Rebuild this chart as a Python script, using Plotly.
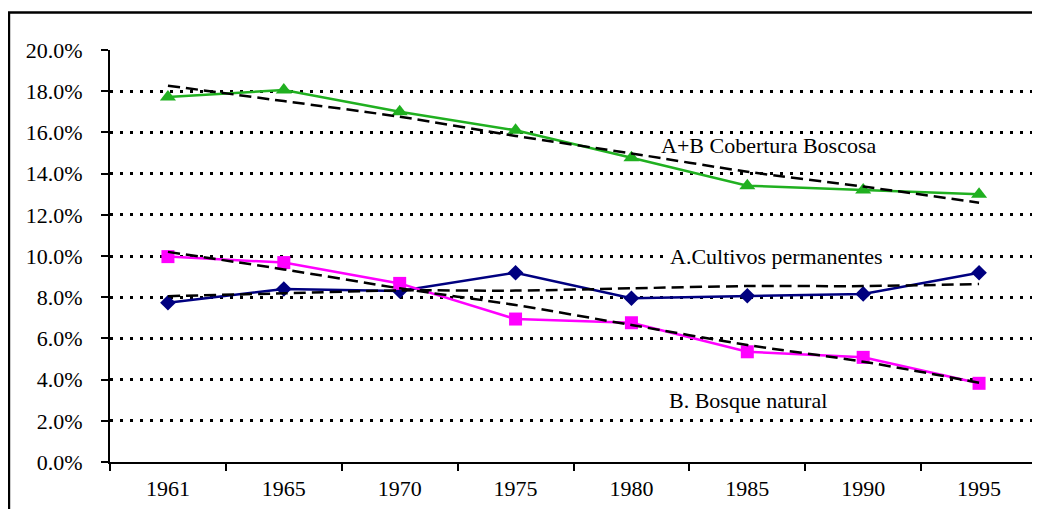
import plotly.graph_objects as go

years = ["1961", "1965", "1970", "1975", "1980", "1985", "1990", "1995"]

# Series values (%)
cobertura_boscosa = [17.72, 18.06, 17.0, 16.1, 14.77, 13.41, 13.2, 13.0]
cultivos_permanentes = [7.73, 8.40, 8.30, 9.19, 7.95, 8.07, 8.16, 9.19]
bosque_natural = [9.97, 9.68, 8.67, 6.94, 6.76, 5.35, 5.08, 3.82]

# Trend lines (%)
trend_cobertura = [18.27, 17.52, 16.76, 15.83, 14.98, 14.09, 13.37, 12.59]
trend_cultivos = [8.05, 8.19, 8.33, 8.32, 8.43, 8.54, 8.54, 8.64]
trend_bosque = [10.2, 9.35, 8.43, 7.62, 6.65, 5.68, 4.87, 3.85]

y_ticks = [0, 2, 4, 6, 8, 10, 12, 14, 16, 18, 20]
y_tick_labels = ["0.0%", "2.0%", "4.0%", "6.0%", "8.0%", "10.0%",
                 "12.0%", "14.0%", "16.0%", "18.0%", "20.0%"]

label_ab = "A+B Cobertura Boscosa"
label_a = "A.Cultivos permanentes"
label_b = "B. Bosque natural"

FONT = "Liberation Serif"

fig = go.Figure()

fig.add_trace(go.Scatter(
    x=years, y=cobertura_boscosa, mode="lines+markers",
    line=dict(color="#20b020", width=2.5),
    marker=dict(symbol="triangle-up", size=14, color="#20b020"),
    showlegend=False))
fig.add_trace(go.Scatter(
    x=years, y=cultivos_permanentes, mode="lines+markers",
    line=dict(color="#000080", width=2.5),
    marker=dict(symbol="diamond", size=12, color="#000080"),
    showlegend=False))
fig.add_trace(go.Scatter(
    x=years, y=bosque_natural, mode="lines+markers",
    line=dict(color="#ff00ff", width=2.5),
    marker=dict(symbol="square", size=13, color="#ff00ff"),
    showlegend=False))

for tr in (trend_cobertura, trend_cultivos, trend_bosque):
    fig.add_trace(go.Scatter(
        x=years, y=tr, mode="lines",
        line=dict(color="black", width=2.5, dash="12px,6px", shape="spline", smoothing=0.8),
        showlegend=False, hoverinfo="skip"))

fig.update_layout(
    width=1032, height=501,
    margin=dict(l=102, r=3, t=42, b=47),
    paper_bgcolor="white", plot_bgcolor="white",
    font=dict(family=FONT, size=22, color="black"),
    xaxis=dict(
        type="category", range=[-0.5, 7.5],
        showline=True, linecolor="black", linewidth=2,
        ticks="outside", tickson="boundaries", ticklen=7, tickwidth=2, tickcolor="black",
        showgrid=False, zeroline=False,
        tickfont=dict(family=FONT, size=22, color="black"),
        ticklabelstandoff=6,
    ),
    yaxis=dict(
        range=[0, 20], tickmode="array", tickvals=y_ticks, ticktext=y_tick_labels,
        showline=True, linecolor="black", linewidth=2,
        ticks="outside", ticklen=7, tickwidth=2, tickcolor="black",
        showgrid=True, gridcolor="black", gridwidth=3, griddash="3px,7px",
        zeroline=False,
        tickfont=dict(family=FONT, size=22, color="black"),
        ticklabelstandoff=14,
    ),
    annotations=[
        dict(text=label_ab, xref="paper", x=0.7104, yref="y", y=15.35,
             showarrow=False, xanchor="center", yanchor="middle",
             font=dict(family=FONT, size=22, color="black")),
        dict(text=label_a, xref="paper", x=0.719, yref="y", y=10.0,
             showarrow=False, xanchor="center", yanchor="middle", bgcolor="white",
             font=dict(family=FONT, size=22, color="black")),
        dict(text=label_b, xref="paper", x=0.688, yref="y", y=2.99,
             showarrow=False, xanchor="center", yanchor="middle",
             font=dict(family=FONT, size=22, color="black")),
    ],
    shapes=[
        dict(type="rect", xref="paper", yref="paper",
             x0=-0.109, x1=1.2, y0=-0.3, y1=1.091,
             line=dict(color="black", width=2.5), layer="below"),
    ],
)

fig.write_html("out.html")
